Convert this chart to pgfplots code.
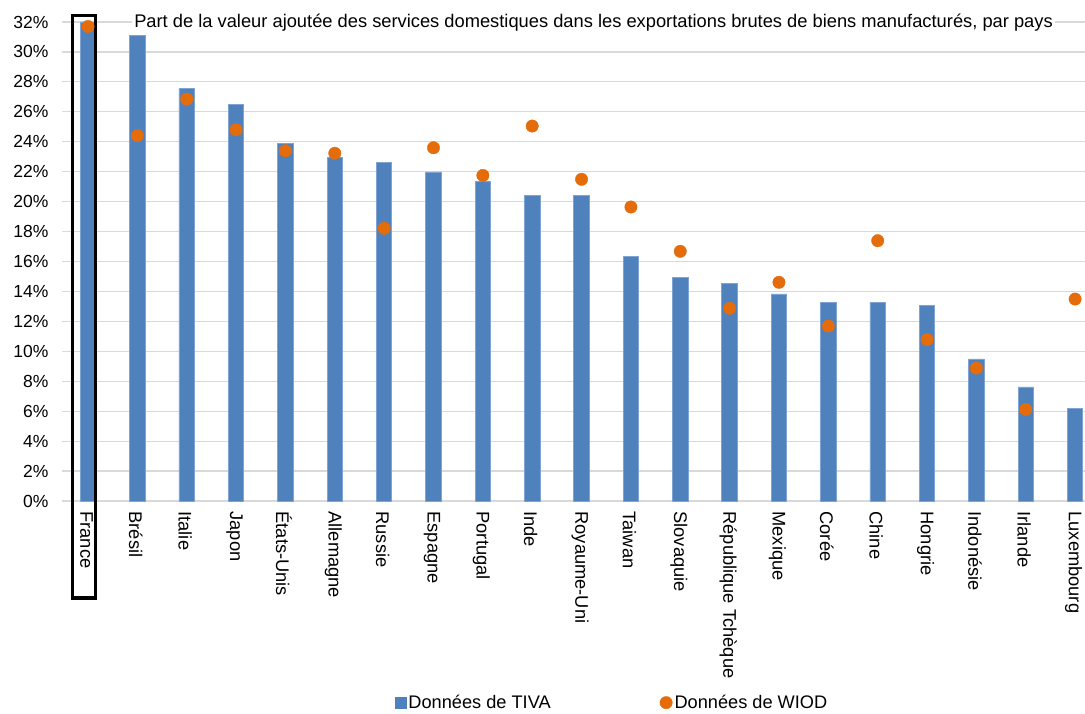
\documentclass[border=0pt]{standalone}
\usepackage{fontspec}
\setmainfont{Liberation Sans}
\usepackage{pgfplots}
\pgfplotsset{compat=1.18}

\definecolor{tivablue}{HTML}{4F81BD}
\definecolor{tivaedge}{HTML}{7FA3D3}
\definecolor{wiodorange}{HTML}{E46C0A}
\definecolor{gridgray}{HTML}{D9D9D9}

\begin{document}
\begin{tikzpicture}[font=\fontsize{17}{20}\selectfont]
\useasboundingbox (0pt,0pt) rectangle (1085pt,713pt);
\begin{axis}[
  at={(62pt,212pt)}, anchor=south west,
  scale only axis, width=1023pt, height=479pt,
  xmin=-0.527, xmax=20.2,
  ymin=0, ymax=32,
  ytick={0,2,...,32},
  yticklabel={\pgfmathprintnumber{\tick}\%},
  /pgf/number format/assume math mode=true,
  xtick={0,...,20},
  xticklabels={France, Brésil, Italie, Japon, États-Unis, Allemagne, Russie, Espagne, Portugal, Inde, Royaume-Uni, Taiwan, Slovaquie, République Tchèque, Mexique, Corée, Chine, Hongrie, Indonésie, Irlande, Luxembourg},
  xticklabel style={rotate=-90, anchor=west, xshift=7pt, yshift=-1.5pt,
    font=\fontsize{18.3}{21}\selectfont},
  yticklabel style={anchor=east, xshift=-10pt, font=\fontsize{17.5}{20}\selectfont},
  major tick length=0pt,
  ymajorgrids, grid style={gridgray, line width=1.2pt},
  axis x line*=bottom, axis y line*=left,
  x axis line style={gridgray, line width=1.2pt},
  y axis line style={draw=none},
  clip=false,
  legend columns=2,
  legend style={at={(0.5376,-0.421)}, anchor=center, draw=none, fill=none,
    font=\fontsize{18.2}{21}\selectfont,
    /tikz/every even column/.append style={column sep=107pt}},
]
% TIVA bars
\addplot[ybar, bar width=15.5pt, bar shift=0pt, fill=tivablue, draw=tivaedge, line width=0.8pt,
  legend image code/.code={\fill[tivablue] (0pt,-5.5pt) rectangle (11pt,5.5pt);}]
  coordinates {
  (0,32.0) (1,31.1) (2,27.55) (3,26.5) (4,23.9) (5,22.97) (6,22.6) (7,21.98)
  (8,21.33) (9,20.44) (10,20.42) (11,16.35) (12,14.92) (13,14.52) (14,13.83)
  (15,13.27) (16,13.27) (17,13.07) (18,9.49) (19,7.62) (20,6.17)
  };
\addlegendentry{Données de TIVA}
% WIOD points
\addplot[only marks, mark=*, mark size=6.2pt, color=wiodorange,
  legend image code/.code={\fill[wiodorange] (6.2pt,0pt) circle (6.2pt);}]
  coordinates {
  (0,31.7) (1,24.4) (2,26.85) (3,24.8) (4,23.4) (5,23.23) (6,18.22) (7,23.6)
  (8,21.75) (9,25.05) (10,21.49) (11,19.64) (12,16.68) (13,12.87) (14,14.61)
  (15,11.69) (16,17.39) (17,10.78) (18,8.88) (19,6.12) (20,13.49)
  };
\addlegendentry{Données de WIOD}
% chart title inside the plot area
\node[fill=white, inner sep=2pt, anchor=base, font=\fontsize{18.3}{21}\selectfont]
  at (axis cs:10.243,31.66)
  {Part de la valeur ajoutée des services domestiques dans les exportations brutes de biens manufacturés, par pays};
% highlight frame around France
\draw[black, line width=3.5pt] (axis cs:-0.314,32.42) rectangle (axis cs:0.148,-6.48);
\end{axis}
\end{tikzpicture}
\end{document}
